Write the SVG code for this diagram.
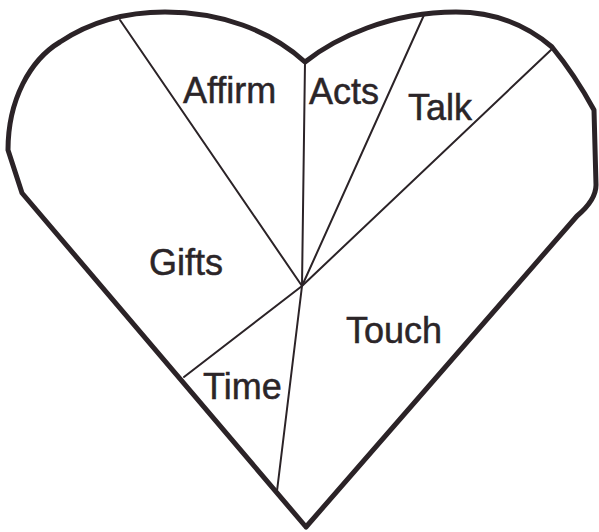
<svg xmlns="http://www.w3.org/2000/svg" width="599" height="532" viewBox="0 0 599 532">
<style>
.outline{fill:#ffffff;stroke:#2b2327;stroke-width:5;stroke-linejoin:round}
.div{fill:none;stroke:#2b2327;stroke-width:2;stroke-linecap:round}
.lbl{font-family:"Liberation Sans",Arial,sans-serif;font-size:36px;fill:#2b2528;stroke:#2b2528;stroke-width:0.5}
</style>
<rect width="599" height="532" fill="#ffffff"/>
<g id="heart">
<path class="outline" d="M305,62 C335,38 390,12 456,12 C500,12 530,28 552,47 Q575,75 594,110 L596,185 Q596,200 577,216 L306,527 L22,193 L8,150 C8,100 30,60 60,42 C90,22 125,12 165,12 C220,12 270,30 305,62 Z"/>
</g>
<g id="connectors">
<line class="div" x1="120" y1="20" x2="302" y2="286"/>
<line class="div" x1="305" y1="62" x2="302" y2="286"/>
<line class="div" x1="424" y1="15" x2="302" y2="286"/>
<line class="div" x1="552" y1="49" x2="302" y2="286"/>
<line class="div" x1="302" y1="286" x2="184" y2="377"/>
<line class="div" x1="302" y1="286" x2="277" y2="491"/>
</g>
<g id="node-affirm"><text class="lbl" x="183" y="103">Affirm</text></g>
<g id="node-acts"><text class="lbl" x="309" y="104">Acts</text></g>
<g id="node-talk"><text class="lbl" x="408" y="120">Talk</text></g>
<g id="node-gifts"><text class="lbl" x="149" y="275">Gifts</text></g>
<g id="node-time"><text class="lbl" x="203" y="399">Time</text></g>
<g id="node-touch"><text class="lbl" x="346" y="343">Touch</text></g>
</svg>
